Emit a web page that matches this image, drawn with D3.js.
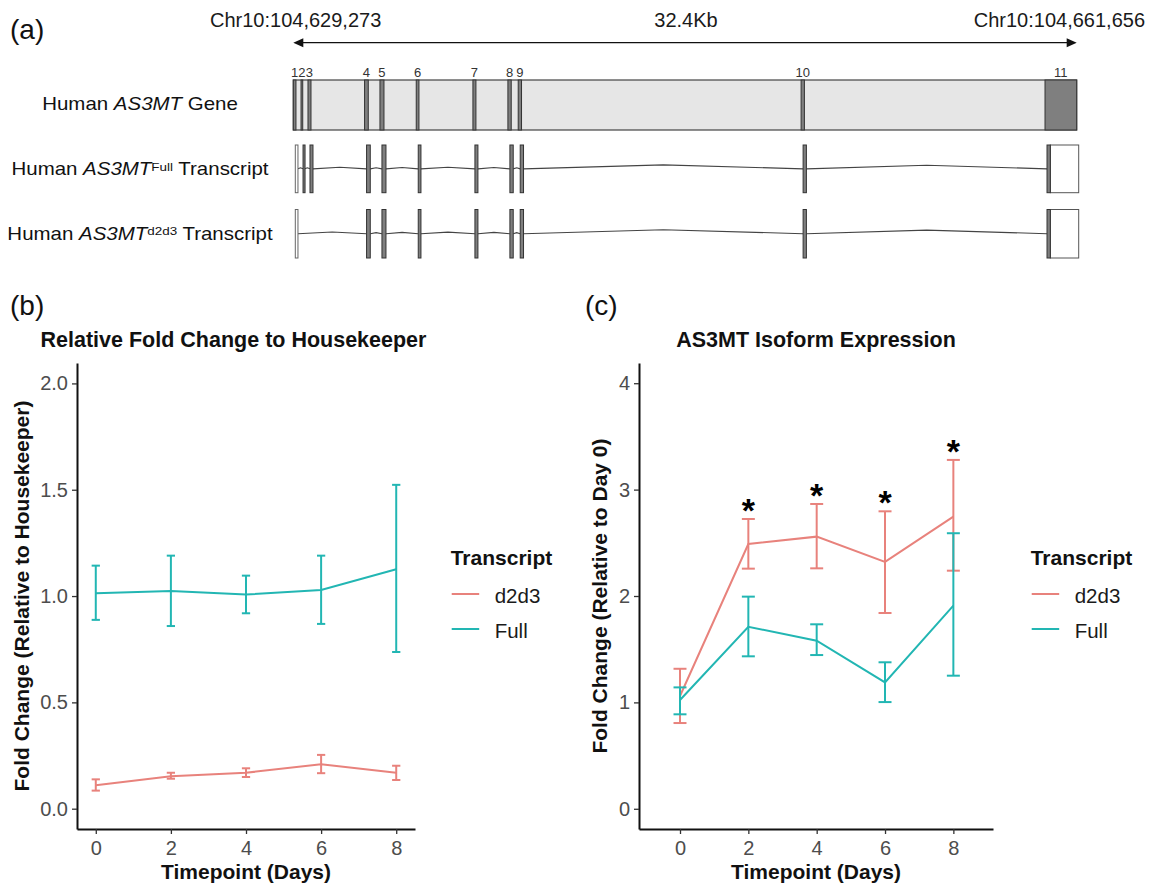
<!DOCTYPE html>
<html><head><meta charset="utf-8">
<script src="https://cdn.jsdelivr.net/npm/d3@7"></script>
<style>
body{margin:0;background:#fff}
svg{display:block;font-family:"Liberation Sans",Arial,Helvetica,sans-serif}
</style>
</head><body>
<svg id="fig" width="1150" height="885"></svg>
<script>
// ================= DATA =================
const timepoints = [0, 2, 4, 6, 8];
const transcripts = ["d2d3", "Full"];

// Panel (b): Relative fold change to housekeeper
const hkD2d3Mean = [0.110, 0.152, 0.169, 0.209, 0.169];
const hkD2d3Low  = [0.085, 0.141, 0.149, 0.167, 0.135];
const hkD2d3High = [0.138, 0.169, 0.190, 0.253, 0.202];
const hkFullMean = [1.013, 1.024, 1.007, 1.029, 1.126];
const hkFullLow  = [0.888, 0.859, 0.919, 0.869, 0.737];
const hkFullHigh = [1.143, 1.190, 1.096, 1.190, 1.523];

// Panel (c): AS3MT isoform expression (relative to day 0)
const isoD2d3Mean = [1.06, 2.489, 2.558, 2.320, 2.746];
const isoD2d3Low  = [0.806, 2.257, 2.260, 1.840, 2.238];
const isoD2d3High = [1.316, 2.724, 2.865, 2.796, 3.279];
const isoFullMean = [1.022, 1.711, 1.580, 1.188, 1.909];
const isoFullLow  = [0.888, 1.433, 1.445, 1.003, 1.251];
const isoFullHigh = [1.141, 1.994, 1.734, 1.377, 2.590];
const significant = [false, true, true, true, true];

const xTicks = [0, 2, 4, 6, 8];
const yTicksB = [0, 0.5, 1.0, 1.5, 2.0];
const yTicksC = [0, 1, 2, 3, 4];

// Panel (a): gene structure (bp offset from Chr10:104,629,273)
const chrStartLabel = "Chr10:104,629,273";
const chrEndLabel = "Chr10:104,661,656";
const spanLabel = "32.4Kb";
const geneLength = 32383;
const exonLabels = ["1","2","3","4","5","6","7","8","9","10","11"];
const exonStart = [0, 320, 607, 2946, 3582, 5082, 7425, 8871, 9297, 20991, 31073];
const exonEnd   = [110, 390, 731, 3099, 3748, 5194, 7549, 9008, 9434, 21127, 32383];
const exon11CodingEnd = 31210;
const fullExons = [0,1,2,3,4,5,6,7,8,9,10];
const d2d3Exons = [0,3,4,5,6,7,8,9,10];
const noncodingExons = [0];

// ================= DRAW =================
const svg = d3.select("#fig");
const FONT = '"Liberation Sans",Arial,Helvetica,sans-serif';
const RED = "#E8827C", TEAL = "#22B6B3";

svg.append("rect").attr("width",1150).attr("height",885).attr("fill","#fff");

// ---- panel labels ----
[["(a)",10,39],["(b)",10,315],["(c)",585,315]].forEach(([t,x,y])=>{
  svg.append("text").attr("x",x).attr("y",y).attr("font-size",28).attr("fill","#111").text(t);
});

// ---- Panel (a) ----
const gx = d3.scaleLinear().domain([0, geneLength]).range([293.3, 1076.7]);
const tx = d3.scaleLinear().domain([0, geneLength]).range([295.3, 1078.7]);
const A = svg.append("g");

// chromosome arrow
const arrowY = 42.7;
A.append("line").attr("x1",gx(0)+9).attr("x2",gx(geneLength)-9).attr("y1",arrowY).attr("y2",arrowY)
  .attr("stroke","#111").attr("stroke-width",1.2);
A.append("path").attr("d",`M${gx(0)},${arrowY} l10,-4.5 l0,9 z`).attr("fill","#111");
A.append("path").attr("d",`M${gx(geneLength)},${arrowY} l-10,-4.5 l0,9 z`).attr("fill","#111");
A.append("text").attr("x",210).attr("y",26.5).attr("font-size",20).attr("fill","#1a1a1a").text(chrStartLabel);
A.append("text").attr("x",1145).attr("y",26.5).attr("font-size",20).attr("fill","#1a1a1a").attr("text-anchor","end").text(chrEndLabel);
A.append("text").attr("x",686).attr("y",26.5).attr("font-size",20).attr("fill","#1a1a1a").attr("text-anchor","middle").text(spanLabel);

// gene box
const geneTop = 80, geneBot = 130;
A.append("rect").attr("x",gx(0)).attr("y",geneTop).attr("width",gx(geneLength)-gx(0)).attr("height",geneBot-geneTop)
  .attr("fill","#e6e6e6").attr("stroke","#444").attr("stroke-width",1.2);
exonStart.forEach((s,i)=>{
  const x0 = gx(s), x1 = gx(exonEnd[i]);
  A.append("rect").attr("x",x0).attr("y",geneTop).attr("width",Math.max(1,x1-x0)).attr("height",geneBot-geneTop)
    .attr("fill","#7f7f7f").attr("stroke","#333").attr("stroke-width",1);
  A.append("text").attr("x",(x0+x1)/2).attr("y",77).attr("font-size",13).attr("fill","#333")
    .attr("text-anchor","middle").text(exonLabels[i]);
});

// transcripts
function drawTranscript(exIdx, top, bot){
  const mid = (top+bot)/2;
  for(let k=0;k<exIdx.length-1;k++){
    const a = tx(exonEnd[exIdx[k]]), b = tx(exonStart[exIdx[k+1]]);
    const rise = Math.min(4, 1 + (b-a)/90);
    A.append("path").attr("d",`M${a},${mid} L${(a+b)/2},${mid-rise} L${b},${mid}`)
      .attr("fill","none").attr("stroke","#444").attr("stroke-width",1.1);
  }
  exIdx.forEach(i=>{
    if(i===10){
      const x0=tx(exonStart[i]), xm=tx(exon11CodingEnd), x1=tx(exonEnd[i]);
      A.append("rect").attr("x",xm).attr("y",top).attr("width",x1-xm).attr("height",bot-top)
        .attr("fill","#fff").attr("stroke","#555").attr("stroke-width",1);
      A.append("rect").attr("x",x0).attr("y",top).attr("width",xm-x0).attr("height",bot-top)
        .attr("fill","#7f7f7f").attr("stroke","#333").attr("stroke-width",1);
    } else {
      const x0=tx(exonStart[i]), x1=tx(exonEnd[i]);
      const nc = noncodingExons.includes(i);
      A.append("rect").attr("x",x0).attr("y",top).attr("width",Math.max(2,x1-x0)).attr("height",bot-top)
        .attr("fill",nc?"#fff":"#7f7f7f").attr("stroke",nc?"#666":"#333").attr("stroke-width",1);
    }
  });
}
drawTranscript(fullExons, 145, 192.7);
drawTranscript(d2d3Exons, 209.5, 258);

// row labels (slightly horizontally stretched as in the original)
function rowLabel(y, sup){
  const t = A.append("text").attr("transform",`translate(140,${y}) scale(1.17,1)`)
    .attr("text-anchor","middle").attr("font-size",17.5).attr("fill","#111");
  t.append("tspan").text("Human ");
  t.append("tspan").attr("font-style","italic").text("AS3MT");
  if(sup){
    t.append("tspan").attr("font-size",11.5).attr("dy",-4.5).text(sup);
    t.append("tspan").attr("dy",4.5).text(" Transcript");
  } else {
    t.append("tspan").text(" Gene");
  }
}
rowLabel(110, null);
rowLabel(175, "Full");
rowLabel(239.5, "d2d3");

// ---- line chart panels ----
function drawPanel(cfg){
  const g = svg.append("g");
  const x = d3.scaleLinear().domain(cfg.xDomain).range(cfg.xRange);
  const y = d3.scaleLinear().domain(cfg.yDomain).range([829, 363]);

  const yAxis = g.append("g").attr("transform",`translate(${cfg.xRange[0]},0)`)
    .call(d3.axisLeft(y).tickValues(cfg.yTicks).tickFormat(cfg.yFmt).tickSize(5).tickPadding(4).tickSizeOuter(0));
  const xAxis = g.append("g").attr("transform",`translate(0,829)`)
    .call(d3.axisBottom(x).tickValues(xTicks).tickFormat(d3.format("d")).tickSize(5).tickPadding(7).tickSizeOuter(0));
  [yAxis,xAxis].forEach(ax=>{
    ax.select(".domain").attr("stroke","#111").attr("stroke-width",2);
    ax.selectAll(".tick line").attr("stroke","#333").attr("stroke-width",1.3);
    ax.selectAll(".tick text").attr("fill","#4d4d4d").attr("font-size",20).attr("font-family",FONT);
  });

  cfg.series.forEach(s=>{
    const pts = timepoints.map((t,i)=>({t, m:s.mean[i], lo:s.low[i], hi:s.high[i]}));
    g.append("path").datum(pts)
      .attr("d", d3.line().x(d=>x(d.t)).y(d=>y(d.m)))
      .attr("fill","none").attr("stroke",s.color).attr("stroke-width",2);
    const eb = g.append("g").attr("stroke",s.color).attr("stroke-width",2).attr("fill","none");
    pts.forEach(d=>{
      const xl = x(d.t - cfg.capW/2), xr = x(d.t + cfg.capW/2), xc = x(d.t);
      eb.append("line").attr("x1",xc).attr("x2",xc).attr("y1",y(d.lo)).attr("y2",y(d.hi));
      eb.append("line").attr("x1",xl).attr("x2",xr).attr("y1",y(d.lo)).attr("y2",y(d.lo));
      eb.append("line").attr("x1",xl).attr("x2",xr).attr("y1",y(d.hi)).attr("y2",y(d.hi));
    });
  });

  if(cfg.stars){
    timepoints.forEach((t,i)=>{
      if(!cfg.stars.flags[i]) return;
      g.append("text").attr("x",x(t)).attr("y",y(cfg.stars.at[i])+3)
        .attr("text-anchor","middle").attr("font-size",34).attr("font-weight","bold").attr("fill","#000").text("*");
    });
  }

  // titles
  g.append("text").attr("x",cfg.titleX).attr("y",347).attr("text-anchor","middle")
    .attr("font-size",21.5).attr("font-weight","bold").attr("fill","#111").text(cfg.title);
  g.append("text").attr("x",(cfg.xRange[0]+cfg.xRange[1])/2).attr("y",879).attr("text-anchor","middle")
    .attr("font-size",21).attr("font-weight","bold").attr("fill","#111").text("Timepoint (Days)");
  g.append("text").attr("transform",`translate(${cfg.yTitleX},596) rotate(-90)`).attr("text-anchor","middle")
    .attr("font-size",21).attr("font-weight","bold").attr("fill","#111").text(cfg.yTitle);

  // legend
  const L = g.append("g").attr("transform",`translate(${cfg.legendX},0)`);
  L.append("text").attr("x",0).attr("y",565).attr("font-size",21).attr("font-weight","bold").attr("fill","#111").text("Transcript");
  transcripts.forEach((tr,k)=>{
    const ly = 594 + k*35;
    const col = cfg.series.find(s=>s.name===tr).color;
    L.append("line").attr("x1",1).attr("x2",28.5).attr("y1",ly).attr("y2",ly).attr("stroke",col).attr("stroke-width",2);
    L.append("text").attr("x",44).attr("y",ly+8.5).attr("font-size",20.5).attr("fill","#1a1a1a").text(tr);
  });
}

drawPanel({
  xDomain:[-0.5, 8.5], xRange:[77, 415],
  yDomain:[-0.0955, 2.096], yTicks:yTicksB, yFmt:d3.format(".1f"),
  capW:0.22,
  series:[
    {name:"d2d3", color:RED, mean:hkD2d3Mean, low:hkD2d3Low, high:hkD2d3High},
    {name:"Full", color:TEAL, mean:hkFullMean, low:hkFullLow, high:hkFullHigh}
  ],
  title:"Relative Fold Change to Housekeeper", titleX:233.5,
  yTitle:"Fold Change (Relative to Housekeeper)", yTitleX:29,
  legendX:450.7
});

drawPanel({
  xDomain:[-1.2, 9.16], xRange:[639, 993],
  yDomain:[-0.19, 4.19], yTicks:yTicksC, yFmt:d3.format("d"),
  capW:0.38,
  series:[
    {name:"d2d3", color:RED, mean:isoD2d3Mean, low:isoD2d3Low, high:isoD2d3High},
    {name:"Full", color:TEAL, mean:isoFullMean, low:isoFullLow, high:isoFullHigh}
  ],
  stars:{flags:significant, at:isoD2d3High},
  title:"AS3MT Isoform Expression", titleX:816,
  yTitle:"Fold Change (Relative to Day 0)", yTitleX:607,
  legendX:1030.7
});
</script>
</body></html>
